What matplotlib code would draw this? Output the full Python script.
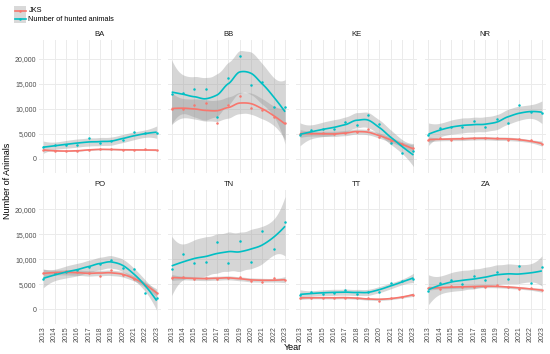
import numpy as np
import matplotlib
matplotlib.use("Agg")
import matplotlib.pyplot as plt
from matplotlib.lines import Line2D
from matplotlib.patches import Rectangle

plt.rcParams['font.family'] = ['Liberation Sans', 'DejaVu Sans']

years = list(range(2013, 2024))
regions = ["BA", "BB", "KE", "NR", "PO", "TN", "TT", "ZA"]
series_names = ["JKS", "Number of hunted animals"]

hunted_BA = [2300, 2850, 2800, 2700, 4200, 3100, 3600, 3700, 5350, 5100, 5250]
jks_BA = [1850, 1600, 1550, 1600, 1850, 2000, 1900, 1800, 1800, 1900, 1750]
hunted_BB = [12900, 13100, 14000, 14000, 8400, 16100, 20500, 14700, 15400, 10400, 10400]
jks_BB = [10000, 9900, 10800, 11100, 7200, 10800, 12600, 10200, 9700, 8400, 7200]
hunted_KE = [4800, 5700, 6000, 6000, 7300, 6800, 8700, 6900, 3200, 1200, 1600]
jks_KE = [5000, 5200, 5200, 4900, 5100, 5300, 6000, 4400, 3500, 2900, 2100]
hunted_NR = [4800, 6100, 6400, 6300, 7600, 6300, 7900, 7200, 10800, 9300, 9200]
jks_NR = [3800, 4200, 3700, 4200, 4100, 4100, 4200, 3800, 4000, 3700, 3000]
hunted_PO = [6000, 7200, 7500, 7800, 8500, 9000, 9900, 8300, 8000, 3200, 2300]
jks_PO = [7200, 7200, 7600, 7400, 7200, 6700, 7900, 6900, 6000, 4900, 3300]
hunted_TN = [8100, 11000, 9300, 9500, 13500, 9300, 13600, 9500, 15700, 12000, 17400]
jks_TN = [6300, 6400, 6100, 6200, 6100, 6300, 6400, 5700, 5500, 6200, 5800]
hunted_TT = [2900, 3400, 3100, 3200, 3900, 3100, 3500, 3500, 5200, 5700, 6100]
jks_TT = [2300, 2300, 2300, 2300, 2300, 2300, 2200, 1700, 2300, 2500, 2900]
hunted_ZA = [3600, 5300, 5900, 5000, 6700, 5900, 7500, 6100, 8700, 5300, 8400]
jks_ZA = [4300, 4100, 4600, 4500, 4500, 4500, 4800, 4400, 4100, 4200, 3800]

y_ticks = [0, 5000, 10000, 15000, 20000]
y_ticklabels = ["0", "5,000", "10,000", "15,000", "20,000"]

data = {
    "BA": (jks_BA, hunted_BA), "BB": (jks_BB, hunted_BB),
    "KE": (jks_KE, hunted_KE), "NR": (jks_NR, hunted_NR),
    "PO": (jks_PO, hunted_PO), "TN": (jks_TN, hunted_TN),
    "TT": (jks_TT, hunted_TT), "ZA": (jks_ZA, hunted_ZA),
}

COL_JKS = "#F8766D"
COL_HUNT = "#00BFC4"


def local_ops(x, xv, span=0.75):
    """Rows giving local quadratic value and slope at xv (linear in y)."""
    n = len(x)
    q = int(np.floor(n * span))
    d = np.abs(x - xv)
    h = np.sort(d)[q - 1]
    u = np.clip(d / h, 0, 1)
    w = (1 - u ** 3) ** 3
    X = np.column_stack([np.ones(n), x - xv, (x - xv) ** 2])
    Wm = np.diag(w)
    S = np.linalg.solve(X.T @ Wm @ X, X.T @ Wm)
    return S[0], S[1]


def kd_vertices(x, span=0.75, cell=0.2):
    xs_sorted = np.sort(np.asarray(x, float))
    n = len(xs_sorted)
    fc = int(np.floor(n * span * cell))
    margin = 0.1 * (xs_sorted[-1] - xs_sorted[0])
    lo0, hi0 = xs_sorted[0] - margin, xs_sorted[-1] + margin
    verts = [lo0, hi0]

    def split(l, u, lb, ub):
        if u - l + 1 <= fc:
            return
        m = (l + u) // 2
        while m >= 2 and xs_sorted[m - 2] == xs_sorted[m - 1]:
            m -= 1
        v = xs_sorted[m - 1]
        if v == lb or v == ub:
            return
        verts.append(v)
        split(l, m, lb, v)
        split(m + 1, u, v, ub)

    split(1, n, lo0, hi0)
    return np.array(sorted(set(verts)))


def interp_operator(x, x0, span=0.75):
    verts = kd_vertices(x, span)
    vals, slopes = [], []
    for v in verts:
        a, b = local_ops(x, v, span)
        vals.append(a)
        slopes.append(b)
    vals = np.array(vals)
    slopes = np.array(slopes)
    rows = []
    for xv in np.atleast_1d(x0):
        k = np.searchsorted(verts, xv, side="right") - 1
        k = min(max(k, 0), len(verts) - 2)
        a, b = verts[k], verts[k + 1]
        hh = b - a
        t = (xv - a) / hh
        h00 = 2 * t ** 3 - 3 * t ** 2 + 1
        h10 = t ** 3 - 2 * t ** 2 + t
        h01 = -2 * t ** 3 + 3 * t ** 2
        h11 = t ** 3 - t ** 2
        rows.append(h00 * vals[k] + h10 * hh * slopes[k]
                    + h01 * vals[k + 1] + h11 * hh * slopes[k + 1])
    return np.array(rows)


def t_quant(df, z=1.959963985):
    g1 = (z ** 3 + z) / 4
    g2 = (5 * z ** 5 + 16 * z ** 3 + 3 * z) / 96
    g3 = (3 * z ** 7 + 19 * z ** 5 + 17 * z ** 3 - 15 * z) / 384
    g4 = (79 * z ** 9 + 776 * z ** 7 + 1482 * z ** 5 - 1920 * z ** 3 - 945 * z) / 92160
    return z + g1 / df + g2 / df ** 2 + g3 / df ** 3 + g4 / df ** 4


def loess_fit(x, y, xs):
    x = np.asarray(x, float)
    y = np.asarray(y, float)
    L = interp_operator(x, x)
    n = len(x)
    IL = np.eye(n) - L
    R = IL.T @ IL
    one_delta = np.trace(R)
    two_delta = np.trace(R @ R)
    res = y - L @ y
    s = np.sqrt(np.sum(res ** 2) / one_delta)
    Lp = interp_operator(x, xs)
    fit = Lp @ y
    se = s * np.sqrt(np.sum(Lp ** 2, axis=1))
    df = one_delta ** 2 / two_delta
    t = t_quant(df)
    return fit, fit - t * se, fit + t * se


W, H = 550, 354
fig = plt.figure(figsize=(W / 100, H / 100), dpi=100)

x_lo, x_hi = 2012.65, 2023.35
y_lo, y_hi = -2900, 23800
px_per_year = 11.34
panel_w = (x_hi - x_lo) * px_per_year
panel_h = (y_hi - y_lo) / 200.0
col_left = [39.3 + i * 128.4 for i in range(4)]
row_top = [159 - y_hi / 200.0, 309.3 - y_hi / 200.0]

grid_col = "#EBEBEB"
txt_col = "#4D4D4D"

xs = np.linspace(years[0], years[-1], 80)
yrs = np.array(years, float)

for idx, reg in enumerate(regions):
    r, c = divmod(idx, 4)
    left = col_left[c] / W
    bottom = 1 - (row_top[r] + panel_h) / H
    ax = fig.add_axes([left, bottom, panel_w / W, panel_h / H])
    ax.set_xlim(x_lo, x_hi)
    ax.set_ylim(y_lo, y_hi)
    for sp in ax.spines.values():
        sp.set_visible(False)
    ax.set_xticks(years)
    ax.set_yticks(y_ticks)
    ax.grid(True, color=grid_col, linewidth=0.7)
    ax.set_axisbelow(True)
    ax.tick_params(length=0, pad=2, colors=txt_col, labelsize=5)
    if c == 0:
        ax.set_yticklabels(y_ticklabels)
    else:
        ax.set_yticklabels([])
    if r == 1:
        ax.set_xticklabels([str(y) for y in years], rotation=90)
    else:
        ax.set_xticklabels([])

    jks, hunt = data[reg]
    fits = []
    for vals in (jks, hunt):
        fit, lo, hi = loess_fit(yrs, vals, xs)
        fits.append(fit)
        ax.fill_between(xs, lo, hi, color="#999999", alpha=0.4, linewidth=0)
    for vals, col in ((jks, COL_JKS), (hunt, COL_HUNT)):
        ax.plot(years, vals, "o", color=col, markersize=1.8, markeredgewidth=0)
    for fit, col in zip(fits, (COL_JKS, COL_HUNT)):
        ax.plot(xs, fit, color=col, linewidth=1.2, solid_capstyle="butt")

    ax.text(0.5, 1.0 + 6 / panel_h, reg, transform=ax.transAxes, ha="center",
            va="center", fontsize=5.5, color="#1A1A1A")

# axis titles
fig.text(8 / W, 1 - 181 / H, "Number of Animals", rotation=90, ha="center",
         va="center", fontsize=6.5, color="black")
fig.text(293 / W, 1 - 347 / H, "Year", ha="center", va="center",
         fontsize=6.5, color="black")

# legend
for i, (name, col) in enumerate(zip(series_names, [COL_JKS, COL_HUNT])):
    yc = [10.5, 19.3][i]
    fig.patches.append(Rectangle((14 / W, 1 - (yc + 4) / H), 12 / W, 8 / H,
                                 transform=fig.transFigure, color="#D9D9D9",
                                 linewidth=0))
    fig.lines.append(Line2D([14.5 / W, 25.5 / W], [1 - yc / H, 1 - yc / H],
                            transform=fig.transFigure, color=col, linewidth=1.2))
    fig.lines.append(Line2D([20 / W], [1 - yc / H], transform=fig.transFigure,
                            marker="o", color=col, markersize=1.8,
                            markeredgewidth=0))
    fig.text(28.5 / W, 1 - yc / H, name, ha="left", va="center", fontsize=5.3,
             color="black")

fig.savefig("out.png", dpi=100)
